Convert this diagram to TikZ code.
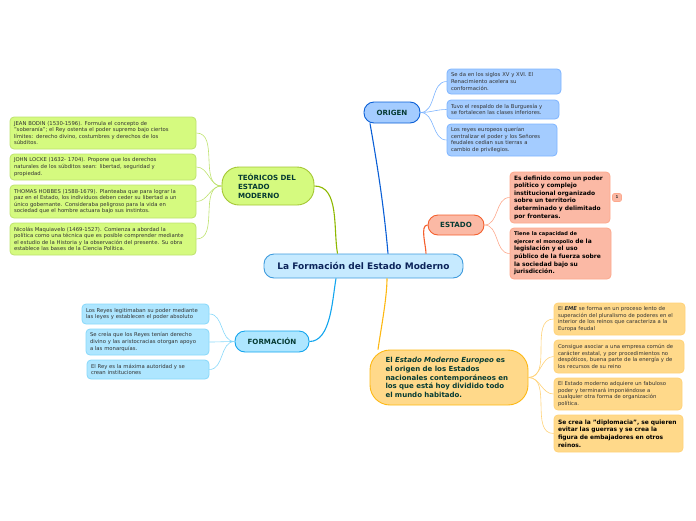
\documentclass[tikz,border=0pt]{standalone}
\usepackage{xcolor}
\usepackage{fontspec}
\setmainfont{DejaVu Sans}
\definecolor{mapCenter}   {RGB}{198, 234, 255}
\definecolor{mapCenterD}  {RGB}{ 62, 155, 221}
\definecolor{mapNavy}     {RGB}{ 12,  36,  90}
\definecolor{mapInk}      {RGB}{  6,  59,  51}
\definecolor{mapLeafInk}  {RGB}{ 50,  50,  50}
\definecolor{mapLime}     {RGB}{213, 250, 127}
\definecolor{mapLimeD}    {RGB}{141, 184,   0}
\definecolor{mapLimeL}    {RGB}{190, 226, 110}
\definecolor{mapBlue}     {RGB}{164, 204, 255}
\definecolor{mapBlueD}    {RGB}{ 10,  95, 214}
\definecolor{mapBlueL}    {RGB}{125, 180, 255}
\definecolor{mapRed}      {RGB}{251, 185, 165}
\definecolor{mapRedD}     {RGB}{244,  96,  46}
\definecolor{mapRedL}     {RGB}{253, 168, 140}
\definecolor{mapSky}      {RGB}{174, 230, 255}
\definecolor{mapSkyD}     {RGB}{ 18, 165, 238}
\definecolor{mapSkyL}     {RGB}{135, 216, 250}
\definecolor{mapGold}     {RGB}{255, 217, 138}
\definecolor{mapGoldD}    {RGB}{253, 184,  19}
\definecolor{mapGoldL}    {RGB}{255, 210, 120}
\tikzset{
  mainbox/.style={rounded corners=10pt,line width=0.9pt,inner sep=0pt,align=left,
                  text=mapInk,font=\fontsize{7.1}{9}\selectfont\bfseries},
  leafbox/.style={rounded corners=4pt,line width=0.8pt,inner xsep=4pt,inner ysep=0pt,
                  align=left,text=mapLeafInk,font=\fontsize{5.3}{6.6}\selectfont},
  boldleaf/.style={text=black,font=\fontsize{5.95}{7.65}\selectfont\bfseries},
  mainlink/.style={line width=1.1pt},
  leaflink/.style={line width=0.6pt}
}
\begin{document}
\begin{tikzpicture}[x=1pt,y=-1pt]
    \useasboundingbox (0,0) rectangle (696,520);

    % centro
    \node[mainbox,draw=mapCenterD,fill=mapCenter,text=mapNavy,minimum width=199pt,minimum height=24pt,
          align=center,font=\fontsize{9}{10}\selectfont\bfseries] (center) at (363.5,266)
      {La Formación del Estado Moderno};

    % teóricos
    \node[mainbox,rounded corners=17pt,draw=mapLimeD!80,fill=mapLime,minimum width=92pt,minimum height=38pt,
          text width=60pt] (teoricos) at (268,186)
      {TEÓRICOS DEL\\ESTADO\\MODERNO};
    \node[leafbox,draw=mapLimeL,fill=mapLime,text width=178pt,minimum height=32pt] (bodin) at (103,133)
      {JEAN BODIN (1530-1596). Formula el concepto de\\"soberanía"; el Rey ostenta el poder supremo bajo ciertos\\límites: derecho divino, costumbres y derechos de los\\súbditos.};
    \node[leafbox,draw=mapLimeL,fill=mapLime,text width=178pt,minimum height=26pt] (locke) at (103,167)
      {JOHN LOCKE (1632- 1704). Propone que los derechos\\naturales de los súbditos sean: libertad, seguridad y\\propiedad.};
    \node[leafbox,draw=mapLimeL,fill=mapLime,text width=178pt,minimum height=33pt] (hobbes) at (103,201.5)
      {THOMAS HOBBES (1588-1679). Planteaba que para lograr la\\paz en el Estado, los individuos deben ceder su libertad a un\\único gobernante. Consideraba peligroso para la vida en\\sociedad que el hombre actuara bajo sus instintos.};
    \node[leafbox,draw=mapLimeL,fill=mapLime,text width=178pt,minimum height=32pt] (maquiavelo) at (103,239)
      {Nicolás Maquiavelo (1469-1527). Comienza a abordad la\\política como una técnica que es posible comprender mediante\\el estudio de la Historia y la observación del presente. Su obra\\establece las bases de la Ciencia Política.};

    % origen
    \node[mainbox,draw=mapBlueD,fill=mapBlue,minimum width=56pt,minimum height=21pt,align=center] (origen) at (392,112.5)
      {ORIGEN};
    \node[leafbox,draw=mapBlueL,fill=mapBlue,text width=106pt,minimum height=25pt] (siglos) at (504,81.5)
      {Se da en los siglos XV y XVI. El\\Renacimiento acelera su\\conformación.};
    \node[leafbox,draw=mapBlueL,fill=mapBlue,text width=104pt,minimum height=19pt] (burguesia) at (503,109.5)
      {Tuvo el respaldo de la Burguesía y\\se fortalecen las clases inferiores.};
    \node[leafbox,draw=mapBlueL,fill=mapBlue,text width=102pt,minimum height=32pt] (reyes) at (502,140)
      {Los reyes europeos querían\\centralizar el poder y los Señores\\feudales cedían sus tierras a\\cambio de privilegios.};

    % estado
    \node[mainbox,draw=mapRedD,fill=mapRed,minimum width=56pt,minimum height=20pt,align=center] (estado) at (456,225)
      {ESTADO};
    \node[leafbox,boldleaf,draw=mapRedL,fill=mapRed,text width=92pt,minimum height=51pt] (definido) at (560,197.5)
      {Es definido como un poder\\político y complejo\\institucional organizado\\sobre un territorio\\determinado y delimitado\\por fronteras.};
    \node[leafbox,boldleaf,draw=mapRedL,fill=mapRed,text width=93pt,minimum height=51pt] (monopolio) at (560.5,253.5)
      {{\fontsize{5.1}{7.65}\selectfont Tiene la capacidad de}\\{\fontsize{5.1}{7.65}\selectfont ejercer el monopolio} de la\\legislación y el uso\\público de la fuerza sobre\\la sociedad bajo su\\jurisdicción.};
    \node[rounded corners=2pt,draw=mapRedL,fill=mapRed,line width=0.6pt,minimum width=9pt,minimum height=8pt,
          inner sep=0pt,text=mapLeafInk,font=\fontsize{4}{5}\selectfont\bfseries] (nota) at (617,197.5) {1};

    % formación
    \node[mainbox,draw=mapSkyD,fill=mapSky,minimum width=74pt,minimum height=21pt,align=center] (formacion) at (272,341.5)
      {FORMACIÓN};
    \node[leafbox,draw=mapSkyL,fill=mapSky,text width=119pt,minimum height=20pt] (legitimaban) at (145.5,314)
      {Los Reyes legitimaban su poder mediante\\las leyes y establecen el poder absoluto};
    \node[leafbox,draw=mapSkyL,fill=mapSky,text width=115pt,minimum height=26pt] (divino) at (147.5,342)
      {Se creía que los Reyes tenían derecho\\divino y las aristocracias otorgan apoyo\\a las monarquías.};
    \node[leafbox,draw=mapSkyL,fill=mapSky,text width=114pt,minimum height=19pt] (autoridad) at (148,369.5)
      {El Rey es la máxima autoridad y se\\crean instituciones};

    % estado moderno europeo
    \node[mainbox,rounded corners=20pt,draw=mapGoldD,fill=mapGold,minimum width=158pt,minimum height=55pt,
          text width=127pt,font=\fontsize{7.0}{8.8}\selectfont\bfseries] (eme) at (449,377.5)
      {El \textit{Estado Moderno Europeo} es\\el origen de los Estados\\nacionales contemporáneos en\\los que está hoy dividido todo\\el mundo habitado.};
    \node[leafbox,draw=mapGoldL,fill=mapGold,text width=123pt,minimum height=32pt] (pluralismo) at (619.5,319)
      {El \textbf{\textit{EME}} se forma en un proceso lento de\\superación del pluralismo de poderes en el\\interior de los reinos que caracteriza a la\\Europa feudal};
    \node[leafbox,draw=mapGoldL,fill=mapGold,text width=122pt,minimum height=33pt] (empresa) at (619,356.5)
      {Consigue asociar a una empresa común de\\carácter estatal, y por procedimientos no\\despóticos, buena parte de la energía y de\\los recursos de su reino};
    \node[leafbox,draw=mapGoldL,fill=mapGold,text width=120pt,minimum height=32pt] (fabuloso) at (618,394)
      {El Estado moderno adquiere un fabuloso\\poder y terminará imponiéndose a\\cualquier otra forma de organización\\política.};
    \node[leafbox,boldleaf,draw=mapGoldL,fill=mapGold,text width=121pt,minimum height=37pt] (diplomacia) at (618.5,433.5)
      {Se crea la "diplomacia", se quieren\\evitar las guerras y se crea la\\figura de embajadores en otros\\reinos.};

    % conectores principales
    \draw[mainlink,mapLimeD] ([xshift=-26pt]center.north) to[out=100,in=0,looseness=0.9] (teoricos.east);
    \draw[mainlink,mapBlueD] ([xshift=24.5pt]center.north) to[out=95,in=-80,looseness=0.9] ([xshift=-22pt]origen.south);
    \draw[mainlink,mapRedD] ([xshift=62.5pt]center.north) to[out=90,in=180,looseness=0.7] (estado.west);
    \draw[mainlink,mapSkyD] ([xshift=-27.5pt]center.south) to[out=-100,in=0,looseness=0.8] (formacion.east);
    \draw[mainlink,mapGoldD] ([xshift=23.5pt]center.south) to[out=-90,in=82,looseness=0.7] ([xshift=-71pt]eme.north);

    % conectores de hojas
    \foreach \leafname in {bodin,locke,hobbes,maquiavelo}
      \draw[leaflink,mapLimeL] (teoricos.west) to[out=180,in=0] (\leafname.east);
    \foreach \leafname in {siglos,burguesia,reyes}
      \draw[leaflink,mapBlueL] (origen.east) to[out=0,in=180] (\leafname.west);
    \foreach \leafname in {definido,monopolio}
      \draw[leaflink,mapRedL] (estado.east) to[out=0,in=180] (\leafname.west);
    \foreach \leafname in {legitimaban,divino,autoridad}
      \draw[leaflink,mapSkyL] (formacion.west) to[out=180,in=0] (\leafname.east);
    \foreach \leafname in {pluralismo,empresa,fabuloso,diplomacia}
      \draw[leaflink,mapGoldL] (eme.east) to[out=0,in=180] (\leafname.west);

\end{tikzpicture}
\end{document}
